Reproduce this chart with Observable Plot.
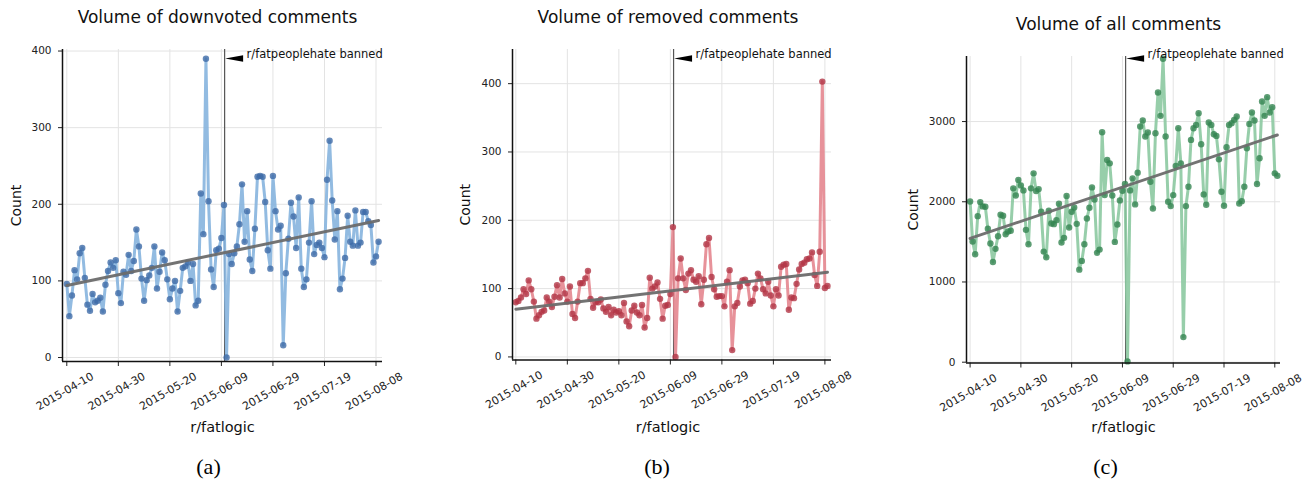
<!DOCTYPE html>
<html><head><meta charset="utf-8">
<script src="https://cdn.jsdelivr.net/npm/d3@7"></script>
<script src="https://cdn.jsdelivr.net/npm/@observablehq/plot@0.6"></script>
<style>
body{margin:0;background:#fff;width:1314px;height:485px;position:relative;overflow:hidden;font-family:"DejaVu Sans",sans-serif}
.panel{position:absolute;top:0}
</style></head><body>
<div id="pa" class="panel" style="left:0px"></div>
<div id="pb" class="panel" style="left:450px"></div>
<div id="pc" class="panel" style="left:900px"></div>
<script>
// ---- data ----
const startDate = "2015-04-10";
const endDate = "2015-08-10"; // exclusive
const banDateStr = "2015-06-10T06:00:00Z";
const banLabel = "r/fatpeoplehate banned";
const subredditLabel = "r/fatlogic";
const yLabel = "Count";
const xTickLabels = ["2015-04-10","2015-04-30","2015-05-20","2015-06-09","2015-06-29","2015-07-19","2015-08-08"];

const downvoted = [96,54,81,114,102,136,143,104,69,61,83,72,74,78,60,95,113,124,117,127,84,71,112,108,134,113,126,167,145,103,74,101,107,117,145,90,112,137,127,102,76,90,100,60,87,117,119,124,100,122,68,74,214,161,390,204,115,92,140,142,156,199,0,135,122,136,145,174,226,151,191,128,113,168,236,237,236,203,140,116,237,191,167,172,16,110,155,202,184,143,209,116,92,102,150,204,135,147,150,143,131,232,283,205,154,191,89,103,130,185,151,146,192,146,150,190,190,178,173,124,132,151];
const removed = [80,82,87,99,92,112,99,81,56,61,66,68,87,81,73,88,105,87,114,93,81,103,63,57,81,108,108,115,126,85,72,80,80,84,71,66,73,61,69,65,67,61,79,52,45,68,75,65,61,76,43,57,116,100,103,109,85,56,75,76,92,190,0,115,144,115,98,122,127,113,110,118,77,113,165,174,117,99,88,89,89,74,110,127,10,74,79,103,112,113,108,78,82,100,122,115,99,93,110,90,74,99,90,132,135,136,69,87,86,107,128,136,138,143,144,153,120,104,154,403,101,104];
const allComments = [2004,1504,1346,1821,1996,1942,1938,1663,1479,1250,1413,1571,1838,1825,1596,1629,1638,2167,2079,2271,2204,2142,1650,1471,2167,2354,2133,2158,1875,1379,1308,1888,1729,1721,1771,1975,1492,1550,2071,1679,1875,1929,1725,1154,1263,1471,1792,1925,2179,2029,1363,1404,2867,2083,2521,2479,2079,1500,1717,2017,2138,2221,10,2142,2292,1967,2363,2938,3013,2813,2863,2250,1917,2854,3363,3071,3783,2813,2000,1946,2083,2446,2917,2479,313,1946,2188,2771,2917,2958,3104,2717,2092,1963,2988,2958,2842,2821,2529,2125,1950,2679,2958,2979,3021,3063,1979,2008,2188,2667,2971,3113,3013,2221,2542,3250,3071,3304,3113,3179,2354,2325];

const titles = ["Volume of downvoted comments","Volume of removed comments","Volume of all comments"];
const captions = ["(a)","(b)","(c)"];
const yTicksA = [0,100,200,300,400];
const yTicksB = [0,100,200,300,400];
const yTicksC = [0,1000,2000,3000];

// ---- build ----
const dates = d3.utcDay.range(new Date(startDate), new Date(endDate));
const banDate = new Date(banDateStr);
const xTicks = xTickLabels.map(s => new Date(s));
const fmt = d3.utcFormat("%Y-%m-%d");

function flagMark(ban, yPx) {
  return (index, scales, values, dims) => {
    const x0 = scales.x(ban);
    return d3.create("svg:path")
      .attr("d", `M${x0 + 1},${yPx} L${x0 + 19},${yPx - 3.2} L${x0 + 19},${yPx + 3.2} Z`)
      .attr("fill", "#000").node();
  };
}

function panel(cfg) {
  const data = dates.map((d, i) => ({date: d, value: cfg.values[i]}));
  const mt = cfg.margin[0], mb = cfg.margin[2];
  return Plot.plot({
    width: cfg.width, height: 485,
    marginLeft: cfg.margin[3], marginRight: cfg.margin[1], marginTop: mt, marginBottom: mb,
    style: {fontFamily: "DejaVu Sans", fontSize: "10.5px", color: "#222", background: "transparent", overflow: "visible"},
    x: {type: "utc", domain: cfg.xDomain.map(s => new Date(s)), axis: null},
    y: {domain: cfg.yDomain, axis: null},
    marks: [
      Plot.gridX(xTicks, {stroke: "#e3e3e3", strokeOpacity: 1, strokeWidth: 1}),
      Plot.gridY(cfg.yTicks, {stroke: "#e3e3e3", strokeOpacity: 1, strokeWidth: 1}),
      Plot.axisY(cfg.yTicks, {tickSize: 4, tickPadding: 7, label: null, stroke: "#222", fontSize: 10.5, tickFormat: d3.format("d")}),
      Plot.axisX(xTicks, {tickSize: 5, tickFormat: () => "", label: null, stroke: "#222"}),
      Plot.text(xTicks, {x: d => d, text: d => fmt(d), frameAnchor: "bottom", dy: 33, rotate: -30, textAnchor: "middle", fontSize: 11, fill: "#222"}),
      Plot.ruleX([banDate], {stroke: "#555", strokeWidth: 1.2}),
      Plot.line(data, {x: "date", y: "value", stroke: cfg.lineColor, strokeWidth: 3, strokeOpacity: 0.9}),
      Plot.dot(data, {x: "date", y: "value", r: 3.2, fill: cfg.dotColor, fillOpacity: 0.8, stroke: "none"}),
      Plot.linearRegressionY(data, {x: "date", y: "value", stroke: "#6b6b6b", strokeWidth: 3, strokeOpacity: 0.95, ci: 0}),
      Plot.ruleX([cfg.xDomain[0]].map(s => new Date(s)), {stroke: "#111", strokeWidth: 1.5}),
      Plot.ruleY([cfg.yDomain[0]], {stroke: "#111", strokeWidth: 1.5}),
      flagMark(banDate, 58.5),
      Plot.text([banLabel], {x: () => banDate, text: d => d, frameAnchor: "top", dx: 22, dy: 54 - mt, textAnchor: "start", lineAnchor: "middle", fontSize: 11.5, fill: "#111"}),
      Plot.text([cfg.title], {text: d => d, frameAnchor: "top", dx: cfg.titleDx, dy: cfg.titleY - mt, lineAnchor: "middle", fontSize: 17, fill: "#111"}),
      Plot.text([yLabel], {text: d => d, frameAnchor: "left", dx: cfg.countDx, rotate: -90, lineAnchor: "middle", textAnchor: "middle", fontSize: 14, fill: "#111"}),
      Plot.text([subredditLabel], {text: d => d, frameAnchor: "bottom", dx: cfg.xlabDx, dy: 427 - (485 - mb), lineAnchor: "middle", fontSize: 14.5, fill: "#111"}),
      Plot.text([cfg.caption], {text: d => d, frameAnchor: "bottom", dx: cfg.capDx, dy: 466 - (485 - mb), lineAnchor: "middle", fontSize: 22, fontFamily: "Liberation Serif", fill: "#000"})
    ]
  });
}

document.getElementById("pa").append(panel({
  values: downvoted, width: 438, margin: [49, 56, 124, 62],
  xDomain: ["2015-04-08T08:00Z", "2015-08-10T12:30Z"], yDomain: [-5.2, 402], yTicks: yTicksA,
  lineColor: "#86b4de", dotColor: "#3f6ca8", title: titles[0], caption: captions[0],
  titleDx: -5, titleY: 17.5, countDx: -46, xlabDx: 0, capDx: -14
}));
document.getElementById("pb").append(panel({
  values: removed, width: 438, margin: [49, 57, 125.5, 62],
  xDomain: ["2015-04-08T17:00Z", "2015-08-10T13:30Z"], yDomain: [-4.5, 450], yTicks: yTicksB,
  lineColor: "#e4868f", dotColor: "#b23646", title: titles[1], caption: captions[1],
  titleDx: -4, titleY: 17.5, countDx: -47, xlabDx: -4, capDx: -15
}));
document.getElementById("pc").append(panel({
  values: allComments, width: 414, margin: [56, 34, 122.5, 66],
  xDomain: ["2015-04-08T14:00Z", "2015-08-10T06:00Z"], yDomain: [-10, 3811], yTicks: yTicksC,
  lineColor: "#8cc9a1", dotColor: "#358451", title: titles[2], caption: captions[2],
  titleDx: -5, titleY: 24, countDx: -53, xlabDx: 0, capDx: -18
}));
</script>
</body></html>
